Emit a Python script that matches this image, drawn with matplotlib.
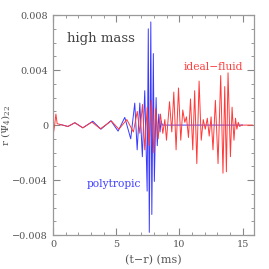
import matplotlib
matplotlib.use("Agg")
import matplotlib.pyplot as plt
from matplotlib.ticker import MultipleLocator

# extrema (t-r in ms, r*Psi4_22)
t_fluid = [0.0, 0.13, 0.23, 0.33, 0.55, 1.18, 1.73, 2.36, 3.08, 3.75, 4.62, 5.21, 5.84,
           6.36, 6.67, 6.87, 7.08, 7.26, 7.45, 7.60, 7.79, 7.98, 8.13, 8.32, 8.50, 8.69,
           8.85, 8.98, 9.22, 9.40, 9.56, 9.74, 9.93, 10.11, 10.27, 10.43, 10.56, 10.72,
           10.88, 11.06, 11.21, 11.38, 11.56, 11.73, 11.89, 12.05, 12.21, 12.36, 12.51,
           12.66, 12.85, 13.06, 13.27, 13.45, 13.59, 13.72, 13.85, 14.04, 14.17, 14.32,
           14.44, 14.55, 14.66, 14.77, 14.89, 15.8]
h_fluid = [-0.0008, 0.0, 0.0008, 0.0001, 0.00005, -0.0001, 0.00017, -0.0002, 0.00022,
           -0.00027, 0.0003, -0.0003, 0.0004, -0.0005, 0.0010, -0.0006, 0.0015, -0.0018,
           0.0013, -0.0015, 0.0018, -0.0020, 0.0012, -0.0010, 0.0008, -0.0006, 0.0004,
           -0.0011, 0.0017, -0.0005, 0.0024, -0.0018, 0.0027, -0.0011, 0.0011, 0.0002,
           0.0006, -0.0009, 0.0019, -0.0018, 0.0025, -0.0028, 0.0032, -0.0011, 0.0004,
           -0.0003, 0.0005, -0.0008, 0.0006, -0.0018, 0.0018, -0.0028, 0.0036, -0.0035,
           0.0028, -0.0034, 0.0038, -0.0023, 0.0013, -0.0011, 0.0005, -0.0003, 0.0002,
           -0.0001, 0.0, 0.0]

t_poly = [0.55, 1.18, 1.73, 2.36, 3.15, 3.79, 4.58, 5.15, 5.68, 6.15, 6.47, 6.66, 6.87,
          7.07, 7.26, 7.45, 7.54, 7.62, 7.74, 7.82, 7.94, 8.02, 8.16, 8.25, 8.37, 8.47,
          8.55, 8.65, 15.0]
h_poly = [0.00005, -0.0001, 0.00017, -0.0002, 0.00028, -0.0003, 0.00032, -0.00044,
          0.00056, -0.0010, 0.0016, -0.0018, 0.0016, -0.0023, 0.0025, -0.0048, 0.0070,
          -0.0078, 0.0075, -0.0065, 0.0052, -0.0041, 0.0020, -0.0015, 0.0008, -0.0005,
          0.0003, 0.0, 0.0]

yticks = [-0.008, -0.004, 0, 0.004, 0.008]
ylabels = ['\u22120.008', '\u22120.004', '0', '0.004', '0.008']

plt.rcParams['font.family'] = 'DejaVu Serif'
plt.rcParams['mathtext.fontset'] = 'dejavuserif'

gray = '#555555'
fig = plt.figure(figsize=(2.69, 2.69), dpi=100)
ax = fig.add_axes([0.197, 0.126, 0.747, 0.818])

ax.plot(t_poly, h_poly, color='#3a3aff', lw=0.7)
ax.plot(t_fluid, h_fluid, color='#ff3a3a', lw=0.7)

ax.set_xlim(0, 15.9)
ax.set_ylim(-0.008, 0.008)
ax.xaxis.set_major_locator(MultipleLocator(5))
ax.xaxis.set_minor_locator(MultipleLocator(1))
ax.set_yticks(yticks)
ax.set_yticklabels(ylabels)
ax.yaxis.set_minor_locator(MultipleLocator(0.001))

ax.tick_params(which='both', direction='in', top=True, right=True,
               color='#888888', labelcolor=gray, labelsize=7)
ax.tick_params(which='major', length=4.8, width=0.8)
ax.tick_params(which='minor', length=2.4, width=0.6)
for s in ax.spines.values():
    s.set_color('#999999')
    s.set_linewidth(0.9)

ax.set_xlabel('(t\u2212r) (ms)', fontsize=8, color=gray, labelpad=4)
ax.set_ylabel(r'r $(\Psi_4)_{22}$', fontsize=7.5, color=gray)
ax.yaxis.set_label_coords(-0.205, 0.5)

ax.text(1.1, 0.0063, 'high mass', fontsize=9.5, color='#444444', va='center')
ax.text(10.3, 0.0042, 'ideal\u2212fluid', fontsize=7.7, color='#ff4040', va='center')
ax.text(2.7, -0.0043, 'polytropic', fontsize=7.7, color='#4040ff', va='center')

fig.savefig('out.png', dpi=100)
